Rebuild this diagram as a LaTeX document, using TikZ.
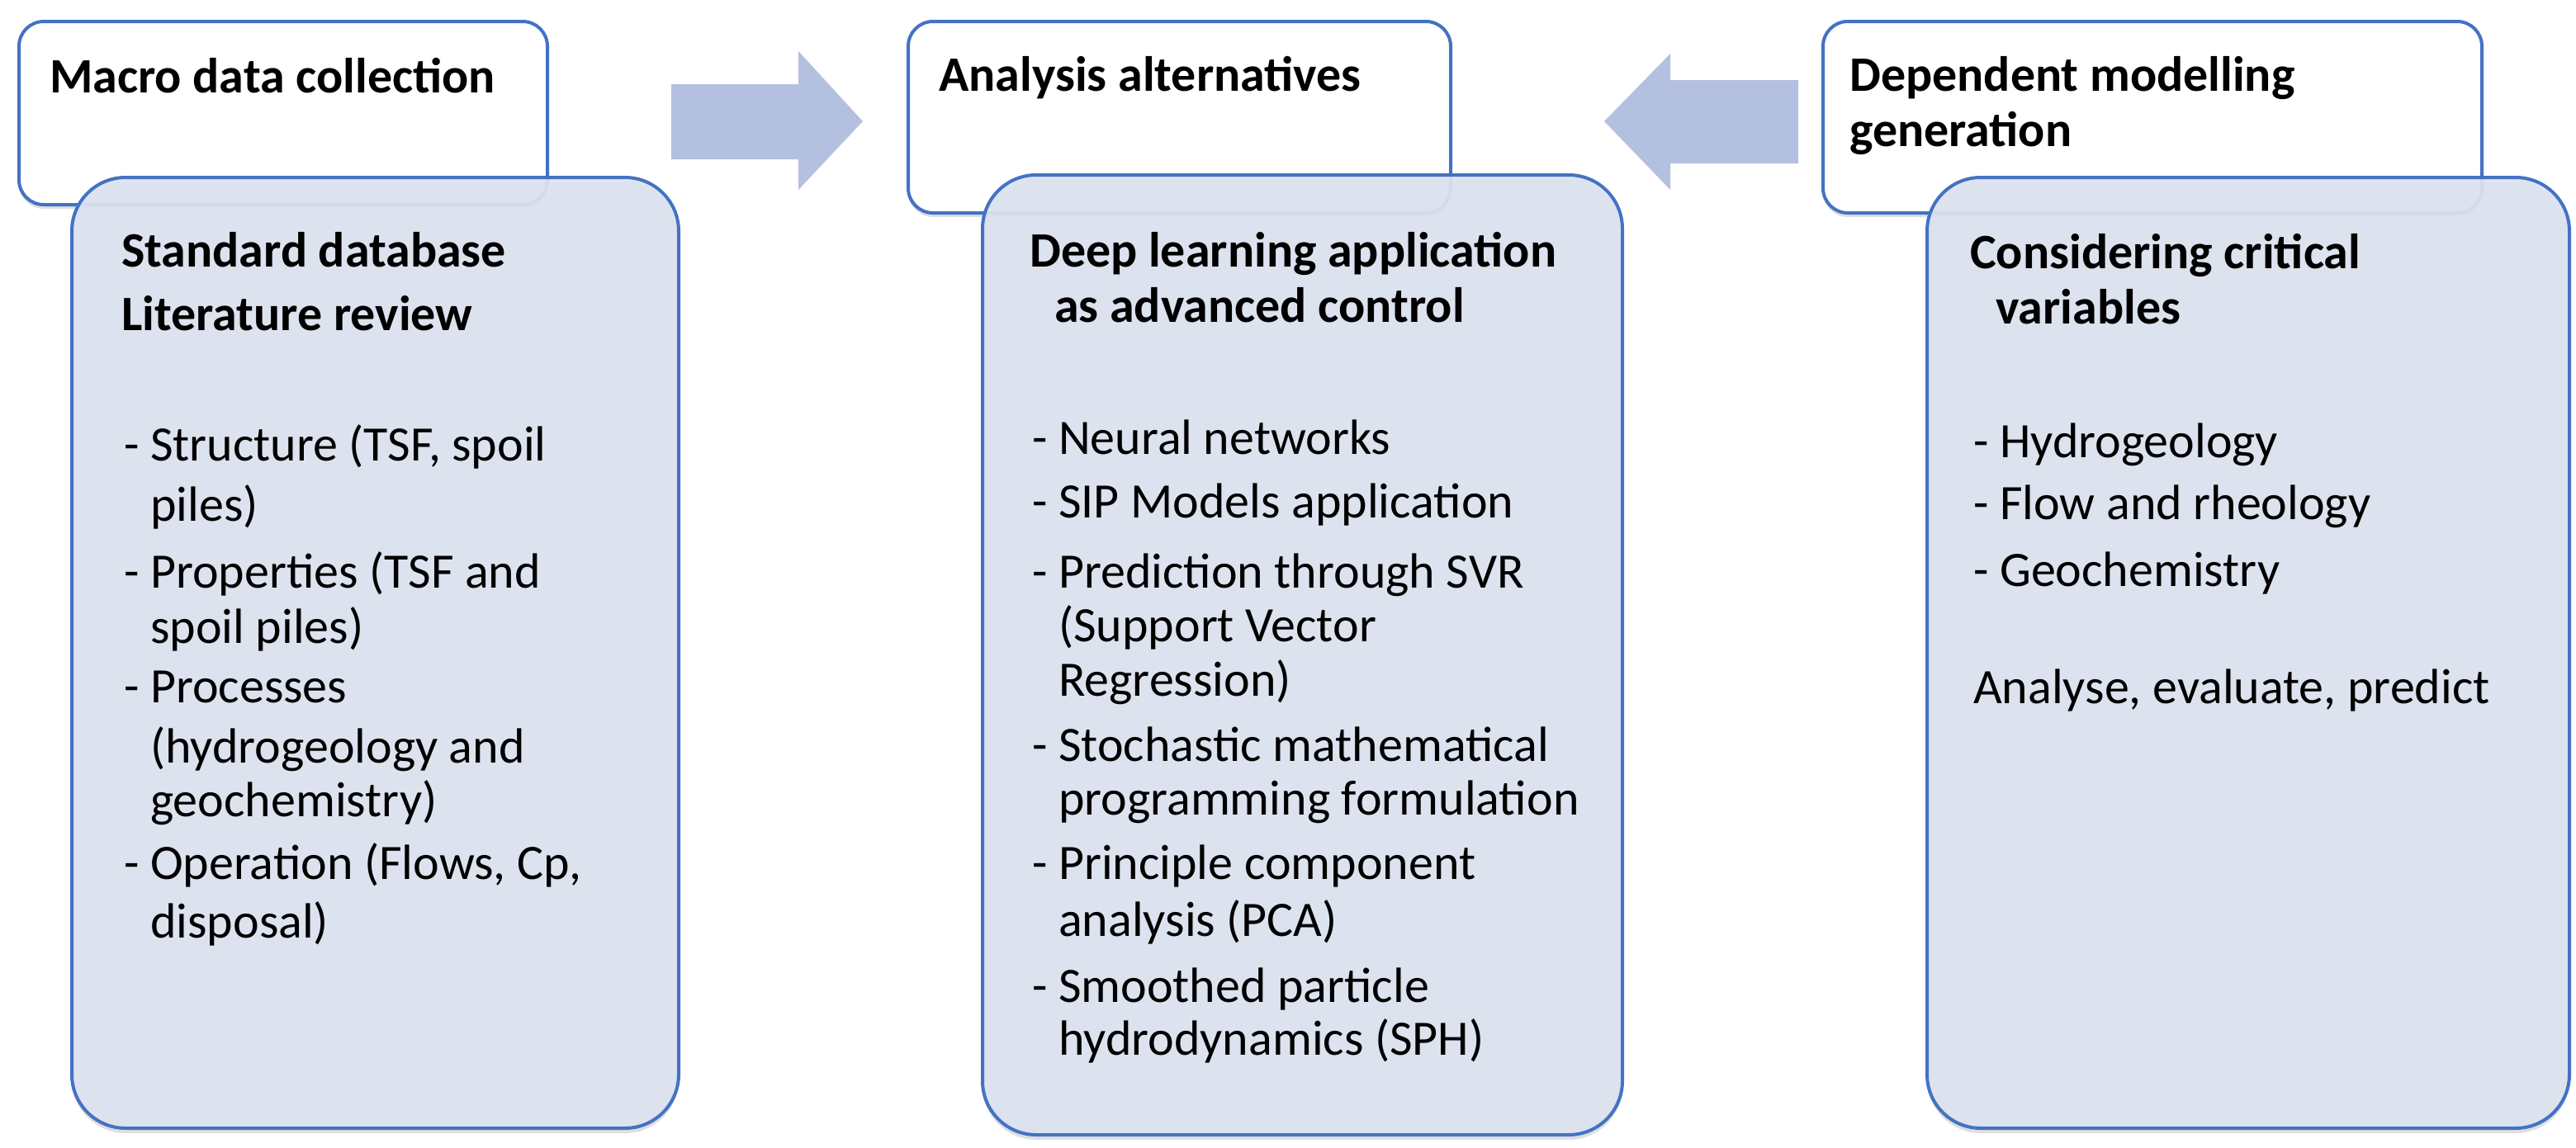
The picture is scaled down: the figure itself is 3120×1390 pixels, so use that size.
\documentclass[tikz,border=0pt]{standalone}
\usepackage{fontspec}
\setmainfont{Carlito}
\usetikzlibrary{shadows}
\definecolor{bord}{HTML}{4472C4}
\definecolor{bodyfill}{HTML}{DCE3F0}
\definecolor{arrowfill}{HTML}{B4C0E0}
\begin{document}
\begin{tikzpicture}[x=1pt,y=-1pt,
  hdr/.style={draw=bord,line width=4pt,fill=white,rounded corners=30pt,inner sep=0pt,
    drop shadow={shadow xshift=0pt,shadow yshift=-5pt,opacity=0.25}},
  bdy/.style={draw=bord,line width=4pt,fill=bodyfill,fill opacity=0.93,rounded corners=65pt,inner sep=0pt,
    drop shadow={shadow xshift=0pt,shadow yshift=-6pt,opacity=0.25}},
  ttl/.style={anchor=base west,inner sep=0pt,font=\fontsize{60}{72}\selectfont\bfseries},
  txt/.style={anchor=base west,inner sep=0pt,font=\fontsize{60}{72}\selectfont},
  arr/.style={fill=arrowfill,draw=none}]
\useasboundingbox (0,0) rectangle (3120,1390);
% header boxes
\node[hdr,minimum width=640pt,minimum height=222pt] (h1) at (343,137) {};
\node[hdr,minimum width=657pt,minimum height=232pt] (h2) at (1428.5,142) {};
\node[hdr,minimum width=798pt,minimum height=232pt] (h3) at (2607,142) {};
% body boxes
\node[bdy,minimum width=735pt,minimum height=1152pt] (b1) at (454.5,791) {};
\node[bdy,minimum width=775pt,minimum height=1163pt] (b2) at (1577.5,793.5) {};
\node[bdy,minimum width=778pt,minimum height=1152pt] (b3) at (2723,791) {};
% block arrows
\fill[arr] (813,102) -- (967,102) -- (967,62) -- (1045,147) -- (967,230) -- (967,193) -- (813,193) -- cycle;
\fill[arr] (2178,97) -- (2023,97) -- (2023,65) -- (1943,147) -- (2023,230) -- (2023,198) -- (2178,198) -- cycle;
% header texts
\node[ttl] (t1) at (60,112) {Macro data collection};
\node[ttl] (t2) at (1137,110) {Analysis alternatives};
\node[ttl] (t3a) at (2240,110) {Dependent modelling};
\node[ttl] (t3b) at (2240,177) {generation};
% body titles
\node[ttl] (s1a) at (147,323) {Standard database};
\node[ttl] (s1b) at (147,400) {Literature review};
\node[ttl] (s2a) at (1247,323) {Deep learning application};
\node[ttl] (s2b) at (1277,390) {as advanced control};
\node[ttl] (s3a) at (2386,325) {Considering critical};
\node[ttl] (s3b) at (2417,392) {variables};
% left list
\node[txt] (l1) at (150,558) {- Structure (TSF, spoil};
\node[txt] (l2) at (182,631) {piles)};
\node[txt] (l3) at (150,712) {- Properties (TSF and};
\node[txt] (l4) at (182,779) {spoil piles)};
\node[txt] (l5) at (150,851) {- Processes};
\node[txt] (l6) at (182,924) {(hydrogeology and};
\node[txt] (l7) at (182,989) {geochemistry)};
\node[txt] (l8) at (150,1065) {- Operation (Flows, Cp,};
\node[txt] (l9) at (182,1136) {disposal)};
% middle list
\node[txt] (m1) at (1250,550) {- Neural networks};
\node[txt] (m2) at (1250,627) {- SIP Models application};
\node[txt] (m3) at (1250,712) {- Prediction through SVR};
\node[txt] (m4) at (1282,777) {(Support Vector};
\node[txt] (m5) at (1282,843) {Regression)};
\node[txt] (m6) at (1250,922) {- Stochastic mathematical};
\node[txt] (m7) at (1282,987) {programming formulation};
\node[txt] (m8) at (1250,1065) {- Principle component};
\node[txt] (m9) at (1282,1134) {analysis (PCA)};
\node[txt] (m10) at (1250,1214) {- Smoothed particle};
\node[txt] (m11) at (1282,1278) {hydrodynamics (SPH)};
% right list
\node[txt] (r1) at (2390,554) {- Hydrogeology};
\node[txt] (r2) at (2390,629) {- Flow and rheology};
\node[txt] (r3) at (2390,710) {- Geochemistry};
\node[txt] (r4) at (2390,852) {Analyse, evaluate, predict};
\end{tikzpicture}
\end{document}
